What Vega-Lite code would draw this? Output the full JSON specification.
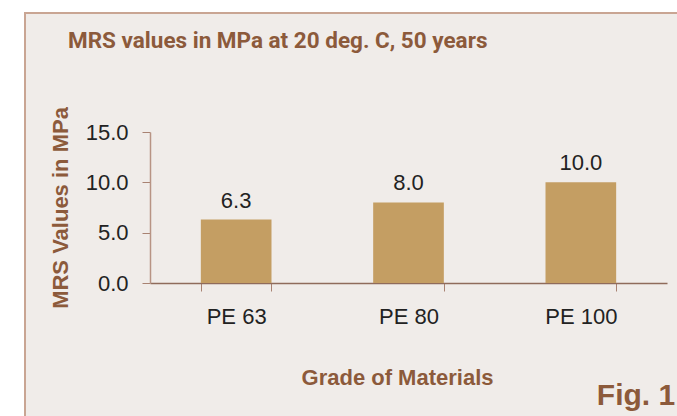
{
  "$schema": "https://vega.github.io/schema/vega-lite/v6.json",
  "width": 654,
  "height": 405,
  "autosize": {"type": "none"},
  "padding": {"left": 25, "top": 13, "right": -2, "bottom": -2},
  "background": "#ffffff",
  "config": {"view": {"fill": "#f0ece9", "stroke": "#c9a593", "strokeWidth": 2}},
  "title": {
    "text": "MRS values in MPa at 20 deg. C, 50 years",
    "font": "Roboto",
    "fontSize": 22.5,
    "fontWeight": "bold",
    "color": "#8c5a3b",
    "anchor": "start",
    "frame": "group",
    "baseline": "alphabetic",
    "offset": -20,
    "dx": 43,
    "dy": 37
  },
  "datasets": {
    "bars": [
      {"grade": "PE 63", "mrs": 6.3},
      {"grade": "PE 80", "mrs": 8.0},
      {"grade": "PE 100", "mrs": 10.0}
    ],
    "fig": [{"label": "Fig. 1"}]
  },
  "layer": [
    {
      "data": {"name": "bars"},
      "mark": {"type": "bar", "color": "#c49e63"},
      "encoding": {
        "x": {
          "field": "grade",
          "type": "nominal",
          "sort": null,
          "scale": {"range": [125, 642], "paddingInner": 0.59, "paddingOuter": 0.295},
          "axis": {
            "title": "Grade of Materials",
            "titleFont": "Liberation Sans",
            "titleFontWeight": "bold",
            "titleFontSize": 22,
            "titleColor": "#8c5a3b",
            "titlePadding": 40,
            "titleX": 372,
            "labelFont": "Liberation Sans",
            "labelFontSize": 22,
            "labelColor": "#222222",
            "labelAngle": 0,
            "labelPadding": 15,
            "tickBand": "extent",
            "tickSize": 8,
            "tickColor": "#a88272",
            "domainColor": "#8f6b5b",
            "domainWidth": 1.5,
            "offset": -135,
            "grid": false
          }
        },
        "y": {
          "field": "mrs",
          "type": "quantitative",
          "scale": {"domain": [0, 15], "range": [270, 119], "nice": false},
          "axis": {
            "title": "MRS Values in MPa",
            "titleFont": "Liberation Sans",
            "titleFontWeight": "bold",
            "titleFontSize": 22,
            "titleColor": "#8c5a3b",
            "titlePadding": 13,
            "values": [0, 5, 10, 15],
            "format": ".1f",
            "labelFont": "Liberation Sans",
            "labelFontSize": 22,
            "labelColor": "#222222",
            "labelPadding": 14,
            "tickSize": 8,
            "tickColor": "#a88272",
            "domainColor": "#b89484",
            "domainWidth": 1.5,
            "offset": -125,
            "grid": false
          }
        }
      }
    },
    {
      "data": {"name": "bars"},
      "mark": {"type": "text", "font": "Liberation Sans", "fontSize": 22, "color": "#222222", "baseline": "alphabetic", "dy": -12},
      "encoding": {
        "x": {"field": "grade", "type": "nominal", "sort": null},
        "y": {"field": "mrs", "type": "quantitative"},
        "text": {"field": "mrs", "type": "quantitative", "format": ".1f"}
      }
    },
    {
      "data": {"name": "fig"},
      "mark": {"type": "text", "font": "Liberation Sans", "fontWeight": "bold", "fontSize": 30, "color": "#8c5a3b", "align": "left", "baseline": "alphabetic", "dx": 16, "dy": 122},
      "encoding": {
        "x": {"datum": "PE 100"},
        "y": {"datum": 0},
        "text": {"field": "label"}
      }
    }
  ]
}
